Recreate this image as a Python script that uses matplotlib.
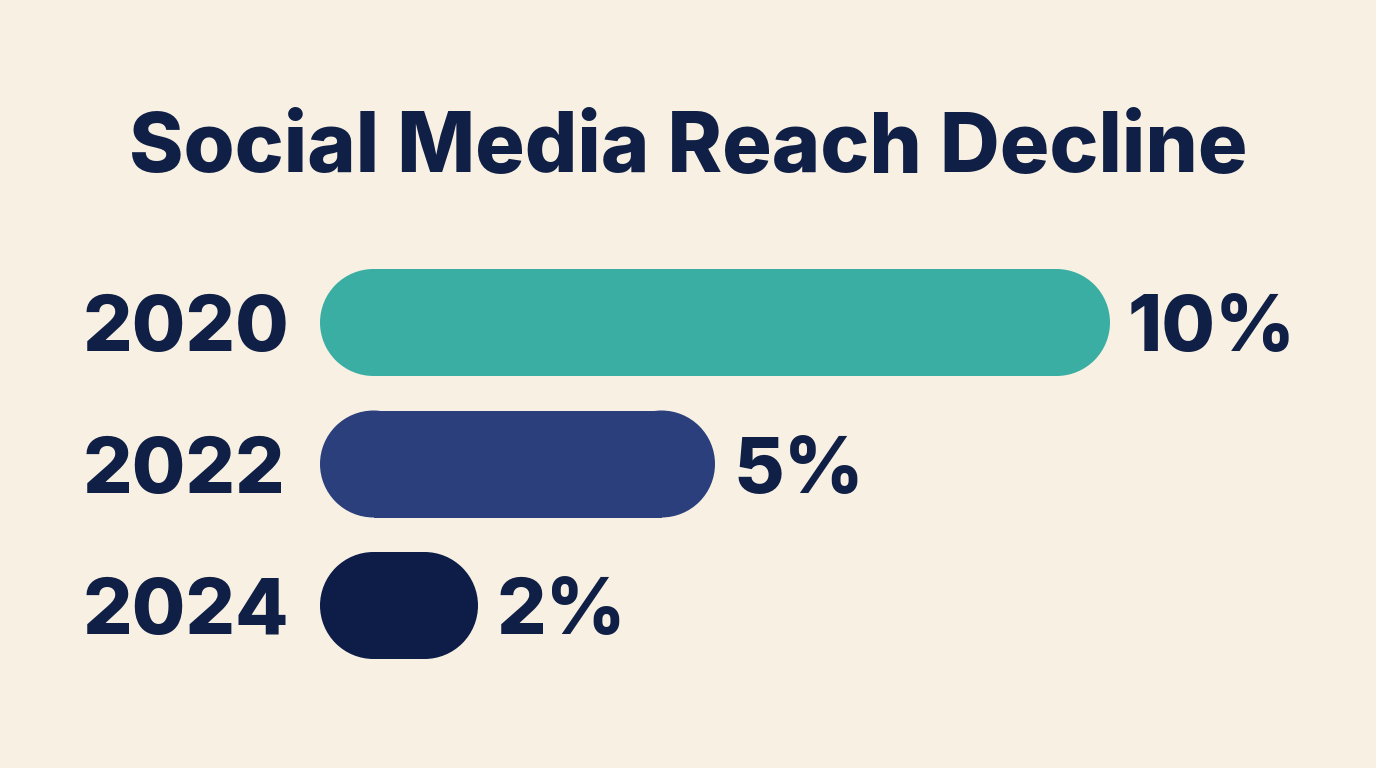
import matplotlib.pyplot as plt
from matplotlib.patches import Ellipse, Rectangle

years = ["2020", "2022", "2024"]
reach = [10, 5, 2]
labels = ["10%", "5%", "2%"]
colors = ["#3BAEA3", "#2A3F7C", "#0D1D48"]

BG = "#F8F1E3"
INK = "#0F1F45"

plt.rcParams["font.family"] = ["Inter", "DejaVu Sans"]

W, H = 1376, 768
fig = plt.figure(figsize=(W / 100, H / 100), dpi=100, facecolor=BG)
ax = fig.add_axes([0, 0, 1, 1])
ax.set_facecolor(BG)
ax.axis("off")

# map value units and row units to pixels
x0_px, px_per_unit = 320, 79
row0_px, row_px = 322.5, 141.5
ax.set_xlim(-x0_px / px_per_unit, (W - x0_px) / px_per_unit)
ax.set_ylim((H - row0_px) / row_px, -row0_px / row_px)

bar_h = 107 / row_px
cap_w = 107 / px_per_unit  # round end cap, a circle in pixels
r = cap_w / 2

for i, (yr, v, lab, c) in enumerate(zip(years, reach, labels, colors)):
    # pill = rectangle body + two round caps
    ax.add_patch(Rectangle((r, i - bar_h / 2), v - 2 * r, bar_h,
                           facecolor=c, edgecolor="none"))
    ax.add_patch(Ellipse((r, i), cap_w, bar_h, facecolor=c, edgecolor="none"))
    ax.add_patch(Ellipse((v - r, i), cap_w, bar_h, facecolor=c, edgecolor="none"))

    ax.text(83 / W, i, yr, transform=ax.get_yaxis_transform(),
            ha="left", va="center_baseline", fontsize=56,
            fontweight="heavy", color=INK)
    ax.annotate(lab, (v, i), xytext=(13, 0), textcoords="offset points",
                ha="left", va="center_baseline", fontsize=56,
                fontweight="heavy", color=INK)

fig.text(0.5, 1 - 141 / H, "Social Media Reach Decline", ha="center",
         va="center_baseline", fontsize=59.5, fontweight="heavy", color=INK)

fig.savefig("out.png", dpi=100, facecolor=BG)
